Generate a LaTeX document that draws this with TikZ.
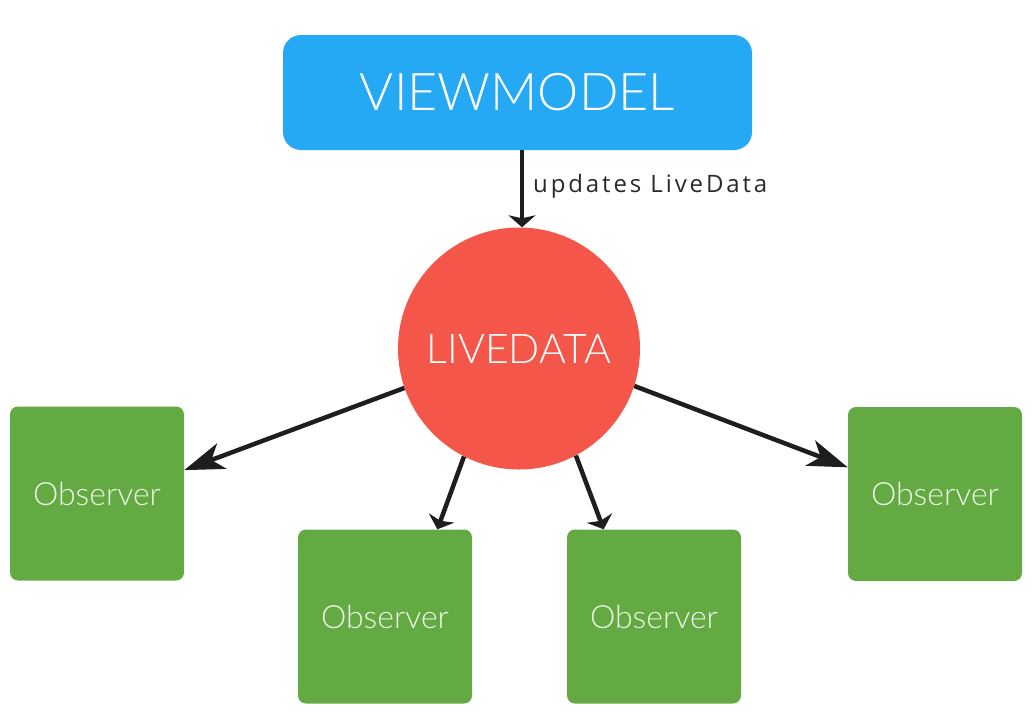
\documentclass[tikz,border=0pt]{standalone}
\usepackage{fontspec}
\setmainfont{Lato}
\newfontfamily\thinfont{Lato Light}
\newfontfamily\lblfont{Open Sans}[LetterSpace=12]
\usetikzlibrary{arrows.meta}
\definecolor{vmblue}{HTML}{25A9F5}
\definecolor{ldred}{HTML}{F4564A}
\definecolor{obgreen}{HTML}{64AA43}
\definecolor{obtext}{HTML}{EEF8E8}
\definecolor{linecol}{HTML}{1E1E1E}
\definecolor{lblcol}{HTML}{2A2A2A}
\tikzset{
  vmbox/.style={fill=vmblue, rounded corners=18pt, minimum width=469pt, minimum height=115pt, inner sep=0pt, text=white, font=\thinfont\fontsize{52}{56}\selectfont},
  ldcircle/.style={circle, fill=ldred, minimum size=242pt, inner sep=0pt, text=white, font=\thinfont\fontsize{41}{45}\selectfont},
  obsbox/.style={fill=obgreen, rounded corners=8pt, minimum width=174pt, minimum height=174pt, inner sep=0pt, text=obtext, font=\thinfont\fontsize{32}{36}\selectfont},
  longarrow/.style={draw=linecol, line width=4.5pt, -{Stealth[length=40pt, width=27pt, inset=11pt]}},
  shortarrow/.style={draw=linecol, line width=4.5pt, -{Stealth[length=12pt, width=27pt, inset=3pt]}},
  lbl/.style={text=lblcol, font=\lblfont\fontsize{24}{28}\selectfont, inner sep=0pt, anchor=west}
}
\begin{document}
\begin{tikzpicture}[x=1pt, y=-1pt]
\useasboundingbox (0,0) rectangle (1034,721);
\node[vmbox] (vm) at (517.5,92.5) {VIEWMODEL};
\node[ldcircle] (live) at (519,348.5) {LIVEDATA};
\node[obsbox] (obsL) at (97,493.5) {Observer};
\node[obsbox] (obsBL) at (385,616.5) {Observer};
\node[obsbox] (obsBR) at (654,616.5) {Observer};
\node[obsbox] (obsR) at (935,494) {Observer};
\coordinate (vmout) at ([xshift=4.5pt]vm.south);
\coordinate (livein) at ([xshift=3pt]live.north);
\draw[shortarrow] (vmout) -- (livein);
\node[lbl] (upd) at (533,186) {updates LiveData};
\draw[longarrow] (live.199) -- (obsL.15);
\draw[longarrow] (live.342) -- (obsR.163);
\draw[shortarrow] (live.243) -- (obsBL.59);
\draw[shortarrow] (live.298) -- (obsBR.120);
\end{tikzpicture}
\end{document}
